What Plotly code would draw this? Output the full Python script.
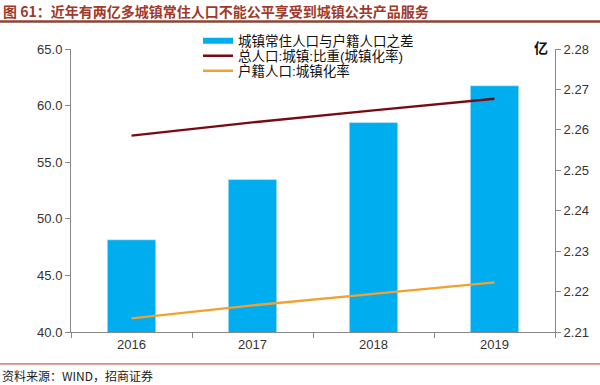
import plotly.graph_objects as go

years = ["2016", "2017", "2018", "2019"]
gap_pop = [2.2328, 2.2477, 2.2618, 2.2709]          # 亿, right axis
urban_total = [57.35, 58.52, 59.58, 60.60]          # %, left axis
urban_hukou = [41.20, 42.35, 43.37, 44.38]          # %, left axis

names = ["城镇常住人口与户籍人口之差", "总人口:城镇:比重(城镇化率)", "户籍人口:城镇化率"]
colors = ["#00AEEF", "#7A0A12", "#F2A12E"]

W, H = 600, 385
L, R, T, B = 71, 555, 49, 332.5


def px_x(px):
    return (px - L) / (R - L)


def px_y(py):
    return (B - py) / (B - T)


fig = go.Figure()
fig.add_trace(go.Bar(x=years, y=gap_pop, name=names[0], marker_color=colors[0],
                     width=0.4, yaxis="y", showlegend=False))
fig.add_trace(go.Scatter(x=[None], y=[None], name=names[0], mode="lines",
                         line=dict(color=colors[0], width=6), yaxis="y2",
                         legend="legend"))
fig.add_trace(go.Scatter(x=years, y=urban_total, name=names[1], mode="lines",
                         line=dict(color=colors[1], width=2.4), yaxis="y2",
                         legend="legend2"))
fig.add_trace(go.Scatter(x=years, y=urban_hukou, name=names[2], mode="lines",
                         line=dict(color=colors[2], width=2.4), yaxis="y2",
                         legend="legend3"))

axis_font = dict(family="Liberation Sans, Arial", size=13, color="#333333")
legend_font = dict(family="Liberation Sans, Noto Sans CJK SC", size=13.5, color="#111111")


def leg(py):
    return dict(x=px_x(198), y=px_y(py), xanchor="left", yanchor="middle",
                bgcolor="rgba(0,0,0,0)", itemwidth=30, font=legend_font)


fig.update_layout(
    width=W, height=H,
    margin=dict(l=L, r=W - R, t=T, b=H - B, pad=0),
    paper_bgcolor="white", plot_bgcolor="white",
    showlegend=True,
    legend=leg(41), legend2=leg(56), legend3=leg(71),
    xaxis=dict(type="category", tickson="boundaries", ticks="outside", ticklen=5,
               tickcolor="#888888", showline=True, linecolor="#888888", linewidth=1,
               showgrid=False, tickfont=axis_font, range=[-0.5, 3.5]),
    yaxis=dict(side="right", range=[2.21, 2.28], dtick=0.01, tick0=2.21,
               tickformat=".2f", ticks="outside", ticklen=5, tickcolor="#888888",
               showline=True, linecolor="#888888", linewidth=1, showgrid=False,
               zeroline=False, tickfont=axis_font),
    yaxis2=dict(side="left", overlaying="y", range=[40, 65], dtick=5, tick0=40,
                tickformat=".1f", ticks="outside", ticklen=5, tickcolor="#888888",
                showline=True, linecolor="#888888", linewidth=1, showgrid=False,
                zeroline=False, tickfont=axis_font),
)

fig.add_annotation(xref="paper", yref="paper", x=px_x(1), y=px_y(11),
                   xanchor="left", yanchor="middle", showarrow=False,
                   text="<b>图 61：近年有两亿多城镇常住人口不能公平享受到城镇公共产品服务</b>",
                   font=dict(family="Noto Sans CJK SC", size=14, color="#A0392A"))
fig.add_annotation(xref="paper", yref="paper", x=px_x(541), y=px_y(47),
                   xanchor="center", yanchor="middle", showarrow=False,
                   text="<b>亿</b>",
                   font=dict(family="Noto Sans CJK SC", size=14, color="#111111"))
fig.add_annotation(xref="paper", yref="paper", x=px_x(0), y=px_y(376),
                   xanchor="left", yanchor="middle", showarrow=False,
                   text="资料来源：WIND，招商证券",
                   font=dict(family="Noto Sans CJK SC", size=12, color="#222222"))

fig.add_shape(type="line", xref="paper", yref="paper",
              x0=px_x(0), x1=px_x(600), y0=px_y(21.5), y1=px_y(21.5),
              line=dict(color="#8A4535", width=2.5))
fig.add_shape(type="line", xref="paper", yref="paper",
              x0=px_x(0), x1=px_x(600), y0=px_y(364.5), y1=px_y(364.5),
              line=dict(color="#C0392B", width=1))

fig.write_html("out.html", config={"displayModeBar": False},
               post_script="document.body.style.margin='0';document.body.style.overflow='hidden';")
